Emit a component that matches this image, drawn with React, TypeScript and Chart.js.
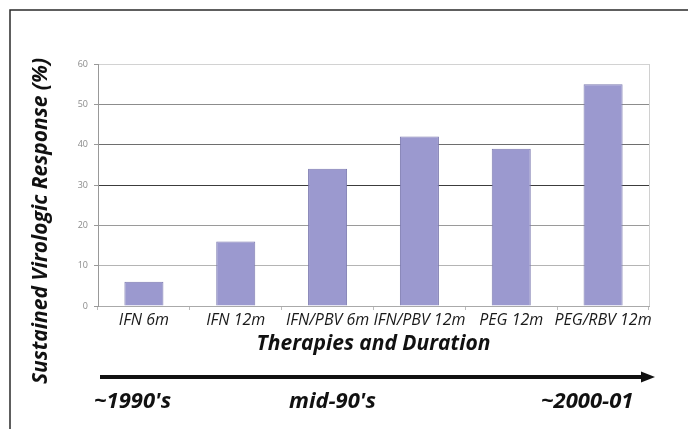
import React, { useEffect, useRef } from 'react';
import { Chart, registerables } from 'chart.js';

Chart.register(...registerables);

const categories = ['IFN 6m', 'IFN 12m', 'IFN/PBV 6m', 'IFN/PBV 12m', 'PEG 12m', 'PEG/RBV 12m'];
const responseValues = [6, 16, 34, 42, 39, 55];
const yTickMin = 0;
const yTickMax = 60;
const yTickStep = 10;
const eraLabels = ["~1990's", "mid-90's", '~2000-01'];
const yTitleText = 'Sustained Virologic Response (%)';
const xTitleText = 'Therapies and Duration';

const FONT = '"Open Sans", "DejaVu Sans", sans-serif';

const gridColorFor = (v: number | undefined) => {
  switch (v) {
    case 0: return '#b0b0b0';
    case 10: return '#b4b4b4';
    case 20: return '#9a9a9a';
    case 30: return '#3c3c3c';
    case 40: return '#6e6e6e';
    case 50: return '#8c8c8c';
    case 60: return '#d2d2d2';
    default: return '#aaaaaa';
  }
};

const eraX = [94, 289, 541];

const decorPlugin = {
  id: 'decor',
  afterDraw(chart: any) {
    const { ctx, chartArea } = chart;
    const W = chart.width;
    const H = chart.height;
    // frame
    ctx.save();
    ctx.strokeStyle = '#2a2a2a';
    ctx.lineWidth = 1.5;
    ctx.beginPath();
    ctx.moveTo(10, H);
    ctx.lineTo(10, 10);
    ctx.lineTo(W, 10);
    ctx.stroke();
    ctx.restore();

    // right border of plot
    ctx.save();
    ctx.strokeStyle = '#d0d0d0';
    ctx.lineWidth = 1;
    ctx.beginPath();
    ctx.moveTo(Math.round(chartArea.right) + 0.5, chartArea.top);
    ctx.lineTo(Math.round(chartArea.right) + 0.5, chartArea.bottom);
    ctx.stroke();
    ctx.restore();

    // y title
    ctx.save();
    ctx.translate(41, 221);
    ctx.rotate(-Math.PI / 2);
    ctx.font = `italic bold 21px ${FONT}`;
    ctx.fillStyle = '#111';
    ctx.textAlign = 'center';
    ctx.textBaseline = 'middle';
    ctx.fillText(yTitleText, 0, 0);
    ctx.restore();

    // arrow
    ctx.save();
    ctx.strokeStyle = '#111';
    ctx.fillStyle = '#111';
    ctx.lineWidth = 4;
    ctx.beginPath();
    ctx.moveTo(100, 377);
    ctx.lineTo(643, 377);
    ctx.stroke();
    ctx.beginPath();
    ctx.moveTo(641, 371.5);
    ctx.lineTo(655, 377);
    ctx.lineTo(641, 382.5);
    ctx.closePath();
    ctx.fill();
    ctx.restore();

    // era labels
    ctx.save();
    ctx.font = `italic bold 22px ${FONT}`;
    ctx.fillStyle = '#111';
    ctx.textAlign = 'left';
    ctx.textBaseline = 'middle';
    eraLabels.forEach((t, i) => ctx.fillText(t, eraX[i], 402));
    ctx.restore();
  },
};

export default function App() {
  const ref = useRef<HTMLCanvasElement | null>(null);
  useEffect(() => {
    if (!ref.current) return;
    const chart = new Chart(ref.current, {
      type: 'bar',
      data: {
        labels: categories,
        datasets: [
          {
            data: responseValues,
            backgroundColor: '#9b99cf',
            borderColor: '#7c7ab0',
            borderWidth: 1,
            categoryPercentage: 1,
            barPercentage: 0.425,
          },
        ],
      },
      options: {
        animation: false,
        responsive: false,
        maintainAspectRatio: false,
        devicePixelRatio: 1,
        layout: { padding: { left: 50, right: 39, top: 64, bottom: 72 } },
        plugins: { legend: { display: false }, tooltip: { enabled: false }, title: { display: false } },
        scales: {
          x: {
            afterFit: (s: any) => { s.height = 51; },
            grid: { display: true, drawOnChartArea: false, drawTicks: true, tickLength: 4, color: '#bbbbbb' },
            border: { display: true, color: '#aaaaaa' },
            ticks: { color: '#1a1a1a', font: { family: FONT, size: 16, style: 'italic' }, padding: 1, maxRotation: 0, autoSkip: false },
            title: {
              display: true,
              text: xTitleText,
              color: '#111',
              font: { family: FONT, size: 21, style: 'italic', weight: 'bold' },
              padding: { top: 0, bottom: 0 },
            },
          },
          y: {
            min: yTickMin,
            max: yTickMax,
            afterFit: (s: any) => { s.width = 48; },
            grid: {
              color: (c: any) => gridColorFor(c.tick?.value),
              tickColor: '#999999',
              tickLength: 4,
              lineWidth: 1,
            },
            border: { display: true, color: '#999999' },
            ticks: { stepSize: yTickStep, color: '#8a8a8a', font: { family: FONT, size: 9 }, padding: 6 },
          },
        },
      },
      plugins: [decorPlugin],
    });
    return () => chart.destroy();
  }, []);
  return (
    <div style={{ position: 'fixed', left: 0, top: 0, width: 688, height: 429, background: '#fff' }}>
      <canvas ref={ref} width={688} height={429} style={{ display: 'block' }} />
    </div>
  );
}
